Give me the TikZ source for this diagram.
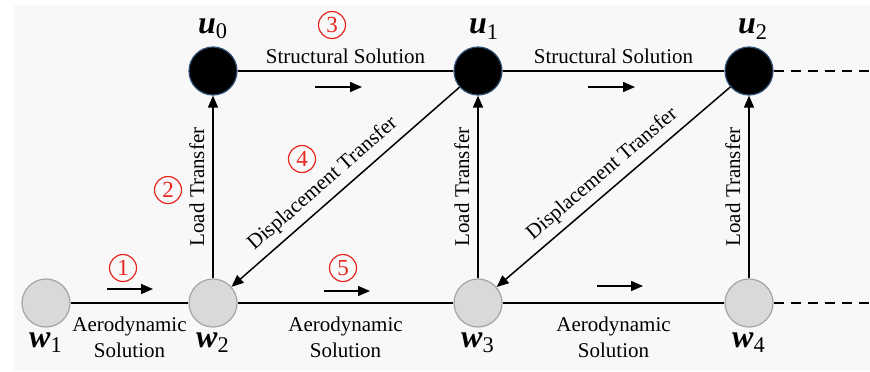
\documentclass[tikz,border=0pt]{standalone}
\usepackage{fontspec}
\setmainfont{Liberation Serif}
\usetikzlibrary{arrows.meta, positioning}

% bold italic variable with an upright subscript
\newcommand{\nodevar}[2]{{\bfseries\itshape #1}\textsubscript{#2}}

\begin{document}
\begin{tikzpicture}[
    x=0.5pt, y=-0.5pt,
    every node/.style={font=\fontsize{10.5}{13}\selectfont},
    unode/.style={circle, fill=black, draw=uedge, line width=0.6pt,
                  minimum size=24pt, inner sep=0pt},
    wnode/.style={circle, fill=wfill, draw=wedge, line width=0.6pt,
                  minimum size=24pt, inner sep=0pt},
    lbl/.style={font=\fontsize{16}{18}\selectfont, inner sep=1pt},
    link/.style={line width=0.75pt},
    transfer/.style={line width=0.75pt, -{Triangle[length=6pt, width=5pt]}},
    stepno/.style={circle, draw=stepred, text=stepred, line width=0.6pt,
                   minimum size=13.5pt, inner sep=0pt,
                   font=\fontsize{11.5}{13}\selectfont},
]

\definecolor{bgcolor}{HTML}{F8F8F8}
\definecolor{uedge}{HTML}{2F4F75}
\definecolor{wfill}{HTML}{D9D9D9}
\definecolor{wedge}{HTML}{A5A5A5}
\definecolor{stepred}{HTML}{E8251F}

\useasboundingbox (0,0) rectangle (870,371);
\fill[bgcolor] (14,5) rectangle (870,371);

% ------------------------------------------------------------ structural states
\node[unode, label={[lbl, label distance=2.5pt]above:\nodevar{u}{0}}] (u0) at (213,71) {};
\node[unode, label={[lbl, label distance=2.5pt, xshift=3pt]above:\nodevar{u}{1}}] (u1) at (478,71) {};
\node[unode, label={[lbl, label distance=2.5pt, xshift=2pt]above:\nodevar{u}{2}}] (u2) at (749,71) {};
\coordinate (uend) at (870,71);

% ------------------------------------------------------------ aerodynamic states
\node[wnode, label={[lbl, label distance=1.5pt]below:\nodevar{w}{1}}] (w1) at (46,303) {};
\node[wnode, label={[lbl, label distance=1.5pt]below:\nodevar{w}{2}}] (w2) at (213,303) {};
\node[wnode, label={[lbl, label distance=1.5pt]below:\nodevar{w}{3}}] (w3) at (478,303) {};
\node[wnode, label={[lbl, label distance=1.5pt]below:\nodevar{w}{4}}] (w4) at (749,303) {};
\coordinate (wend) at (870,303);

% ------------------------------------------------------------ solutions
\draw[link] (u0) -- node[above] {Structural Solution} (u1);
\draw[link] (u1) -- node[above] {Structural Solution} (u2);
\draw[link, dash pattern=on 5pt off 3.5pt] (u2) -- (uend);

\foreach \a/\b in {w1/w2, w2/w3, w3/w4}
    \draw[link] (\a) -- node[below, yshift=-3pt, align=center]
        {Aerodynamic\\Solution} (\b);
\draw[link, dash pattern=on 5pt off 3.5pt] (w4) -- (wend);

% ------------------------------------------------------------ transfers
\foreach \a/\b in {w2/u0, w3/u1, w4/u2}
    \draw[transfer] (\a) -- node[above, sloped, inner sep=4pt] {Load Transfer} (\b);
\draw[transfer] (u1) -- node[above, sloped, pos=0.55] {Displacement Transfer} (w2);
\draw[transfer] (u2) -- node[above, sloped] {Displacement Transfer} (w3);

% ------------------------------------------------------------ order of steps
\foreach \xa/\xb/\y in {107/153/289, 315/362/87, 588/635/87,
                        324/370/291, 597/643/286}
    \draw[transfer] (\xa,\y) -- (\xb,\y);

\node[stepno] (s1) at (123,268) {1};
\node[stepno] (s2) at (168,190) {2};
\node[stepno] (s3) at (332,25)  {3};
\node[stepno] (s4) at (302,159) {4};
\node[stepno] (s5) at (343,268) {5};

\end{tikzpicture}
\end{document}
